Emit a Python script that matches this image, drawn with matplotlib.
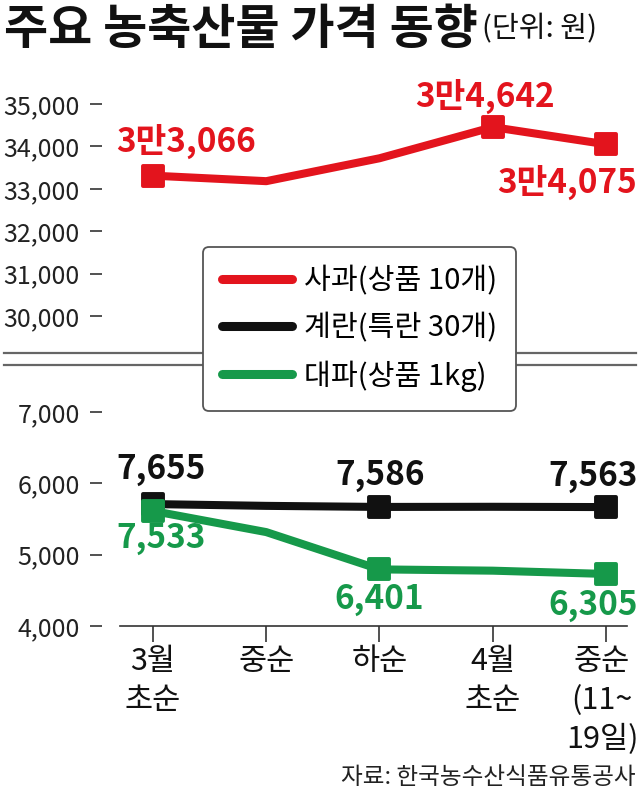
import numpy as np
import matplotlib
matplotlib.use("Agg")
import matplotlib.pyplot as plt
from matplotlib.lines import Line2D
from matplotlib.markers import MarkerStyle
from matplotlib.transforms import ScaledTranslation

plt.rcParams['font.family'] = ['Noto Sans CJK KR', 'DejaVu Sans']

# ---- 데이터 ----
periods = ['3월\n초순', '중순', '하순', '4월\n초순', '중순\n(11~\n19일)']

# 그래프상 위치(눈금 기준으로 읽은 값)
apple = [33310, 33180, 33720, 34455, 34050]
egg = [5710, 5685, 5670, 5672, 5668]
leek = [5613, 5317, 4794, 4776, 4730]

# 표시된 실제 가격
apple_price = [33066, None, None, 34642, 34075]
egg_price = [7655, None, 7586, None, 7563]
leek_price = [7533, None, 6401, None, 6305]

top_ticks = [30000, 31000, 32000, 33000, 34000, 35000]
bottom_ticks = [4000, 5000, 6000, 7000]

RED = '#e3141d'
BLACK = '#111111'
GREEN = '#16994a'
GRAY = '#333333'

W, H = 640, 798
x = np.arange(len(periods))


def fy(px):
    return 1 - px / H


def px2pt(p):
    return p * 72 / 100


def won(v):
    if v >= 10000:
        return f"{v // 10000}만{v % 10000:,}"
    return f"{v:,}"


fig = plt.figure(figsize=(W / 100, H / 100), dpi=100)

left = 102 / W
width = 525 / W
ax1 = fig.add_axes([left, fy(353), width, (353 - 70) / H])
ax2 = fig.add_axes([left, fy(626), width, (626 - 365) / H])

xlim = (-51 / 113.3, 4 + 21 / 113.3)
ax1.set_ylim(35000 - 249 / 42.4 * 1000, 35000 + 34 / 42.4 * 1000)
ax2.set_ylim(4000, 4000 + 261 / 71.3 * 1000)

mk = MarkerStyle('s', joinstyle='round')
line_kw = dict(lw=5.8, marker=mk, markersize=14.5, markeredgewidth=2.8,
               solid_joinstyle='round', solid_capstyle='butt', clip_on=False)

l_apple, = ax1.plot(x, apple, color=RED, markevery=[0, 3, 4], **line_kw)
l_egg, = ax2.plot(x, egg, color=BLACK, markevery=[0, 2, 4], **line_kw)
l_leek, = ax2.plot(x, leek, color=GREEN, markevery=[0, 2, 4], **line_kw)


def label(ax, vals, prices, offsets, color):
    for i, (v, p) in enumerate(zip(vals, prices)):
        if p is None:
            continue
        dx, dy = offsets[i]
        ax.annotate(won(p), (x[i], v), xytext=(px2pt(dx), px2pt(dy)),
                    textcoords='offset points', ha='center', va='center',
                    fontsize=24, fontweight='bold', color=color,
                    annotation_clip=False)


label(ax1, apple, apple_price,
      [(33, 34), None, None, (-8, 31), (-39, -38)], RED)
label(ax2, egg, egg_price,
      [(8, 35), None, (1, 31), None, (-13, 31)], BLACK)
label(ax2, leek, leek_price,
      [(8, -28), None, (0, -30), None, (-13, -32)], GREEN)

for ax, ticks in ((ax1, top_ticks), (ax2, bottom_ticks)):
    ax.set_xlim(*xlim)
    ax.set_yticks(ticks)
    ax.set_yticklabels([f"{t:,}" for t in ticks])
    ax.tick_params(axis='y', length=px2pt(12), width=1.2, color=GRAY,
                   pad=px2pt(10), labelsize=18, labelcolor='#222222')
    for s in ['top', 'right', 'left']:
        ax.spines[s].set_visible(False)
    ax.patch.set_alpha(0)

ax1.spines['bottom'].set_visible(False)
ax1.set_xticks([])

ax2.spines['bottom'].set_color(GRAY)
ax2.spines['bottom'].set_linewidth(1.2)
ax2.spines['bottom'].set_bounds(-33 / 113.3, xlim[1])
ax2.set_xticks(x)
ax2.set_xticklabels(periods, fontsize=22, color='#111111', linespacing=1.32,
                    va='top')
ax2.tick_params(axis='x', length=px2pt(16), width=1.2, color=GRAY,
                pad=px2pt(4))
# 마지막 라벨은 오른쪽 끝에 걸리지 않게 살짝 왼쪽으로
last = ax2.get_xticklabels()[-1]
last.set_transform(last.get_transform() +
                   ScaledTranslation(-4 / 100, 0, fig.dpi_scale_trans))

# 축 생략 표시
for yy in (353, 365):
    fig.add_artist(Line2D([4 / W, 636 / W], [fy(yy), fy(yy)],
                          color='#666666', lw=1.6, zorder=1))

# 범례
handles = [Line2D([], [], color=c, lw=6.5, solid_capstyle='round')
           for c in (RED, BLACK, GREEN)]
leg = fig.legend(handles, ['사과(상품 10개)', '계란(특란 30개)', '대파(상품 1kg)'],
                 loc='upper left', bbox_to_anchor=(203 / W, fy(247)),
                 borderaxespad=0, fontsize=21, handlelength=2.4,
                 handletextpad=0.4, labelspacing=0.58, borderpad=0.66,
                 frameon=True, fancybox=True, framealpha=1,
                 edgecolor='#555555', facecolor='white')
leg.get_frame().set_linewidth(1.3)
leg.set_zorder(5)

fig.text(4 / W, fy(44), '주요 농축산물 가격 동향', fontsize=34.5,
         fontweight='bold', color='#111111', va='baseline', ha='left')
fig.text(482 / W, fy(37), '(단위: 원)', fontsize=21, color='#111111',
         va='baseline', ha='left')

fig.text(636 / W, fy(777), '자료: 한국농수산식품유통공사', fontsize=17,
         color='#222222', ha='right', va='center')

fig.savefig('out.png', dpi=100)
